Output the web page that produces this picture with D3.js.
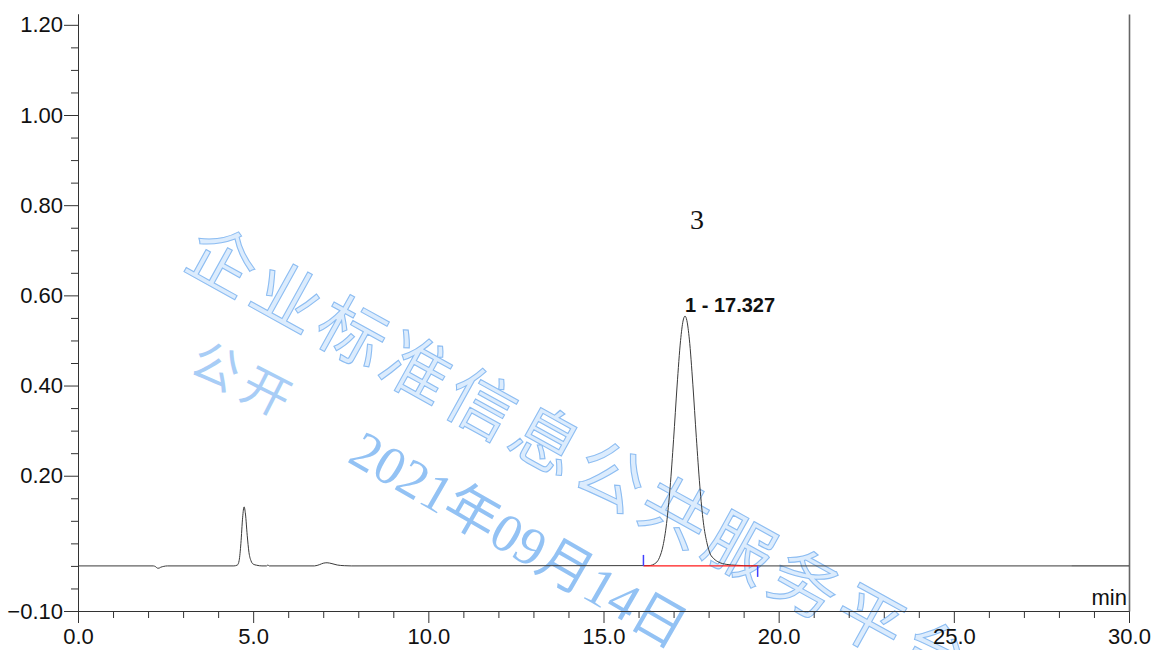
<!DOCTYPE html>
<html><head><meta charset="utf-8">
<script src="https://cdn.jsdelivr.net/npm/d3@7"></script>
<style>body{margin:0;background:#fff}svg{display:block}</style>
</head><body><svg id="c" width="1156" height="650"></svg>
<script>
// ---- data ----
const signalTime  = [0, 2.15, 2.22, 2.27, 2.31, 2.36, 2.45, 2.55,
  4.45, 4.55, 4.60, 4.65, 4.70, 4.74, 4.78, 4.83, 4.88, 4.94, 5.00, 5.10, 5.25, 5.38, 5.42, 5.46,
  6.75, 6.90, 7.00, 7.11, 7.25, 7.40, 7.60, 7.80,
  16.3, 16.5, 16.6, 16.7, 16.8, 16.9, 17.0, 17.1, 17.2, 17.27, 17.327, 17.38, 17.45, 17.55, 17.65,
  17.75, 17.85, 17.95, 18.05, 18.15, 18.3, 18.5, 18.8, 19.2, 19.5, 28.35];
const signalValue = [0, 0, -0.002, -0.005, -0.005, -0.003, -0.001, 0,
  0, 0.002, 0.012, 0.05, 0.108, 0.131, 0.115, 0.068, 0.030, 0.011, 0.004, 0.0015, 0, 0, 0.002, 0,
  0, 0.003, 0.006, 0.007, 0.005, 0.002, 0.0005, 0,
  0.0007, 0.007, 0.019, 0.045, 0.094, 0.173, 0.280, 0.399, 0.500, 0.543, 0.554, 0.544, 0.503, 0.403, 0.285,
  0.177, 0.097, 0.052, 0.026, 0.016, 0.008, 0.0035, 0.0013, 0.0004, 0, 0];
const zeroTailTime = [28.35, 30];
const peakName = "1 - 17.327";
const peakTime = 17.327;
const peakHeight = 0.554;
const integStart = 16.14;
const integEnd = 19.40;
const extraLabel = "3";
const extraLabelPos = [17.67, 0.747];
const yMajorTicks = [1.2, 1.0, 0.8, 0.6, 0.4, 0.2, -0.1];
const yMinorTicks = [1.15, 1.1, 1.05, 0.95, 0.9, 0.85, 0.75, 0.7, 0.65, 0.55, 0.5, 0.45, 0.35, 0.3, 0.25, 0.15, 0.1, 0.05, 0, -0.05];
const xMajorTicks = [0, 5, 10, 15, 20, 25, 30];
const xMinorTicks = [1,2,3,4,6,7,8,9,11,12,13,14,16,17,18,19,21,22,23,24,26,27,28,29];
const xUnit = "min";
const wmMain = "企业标准信息公共服务平台";
const wmSub = "公开";
const wmDate = "2021年09月14日";

// ---- layout ----
const svg = d3.select("#c");
const x = d3.scaleLinear().domain([0, 30]).range([78, 1129]);
const y = d3.scaleLinear().domain([-0.1, 1.224]).range([611, 14]);
const FONT = "'Liberation Sans', Arial, sans-serif";

// watermark (under the chart)
const wm = svg.append("g").attr("class", "watermark");
wm.append("text").text(wmMain)
  .attr("transform", "translate(181,266) rotate(29)")
  .attr("font-family", "'Noto Sans CJK SC', sans-serif").attr("font-size", 68)
  .attr("letter-spacing", 6)
  .attr("fill", "#dcecfd").attr("stroke", "#8dbdf2").attr("stroke-width", 1.1);
wm.append("text").text(wmSub)
  .attr("transform", "translate(187,371) rotate(27)")
  .attr("font-family", "'Noto Sans CJK SC', sans-serif").attr("font-size", 48)
  .attr("letter-spacing", 8)
  .attr("fill", "#a8cdf6");
wm.append("text").text(wmDate)
  .attr("transform", "translate(346,461) rotate(30)")
  .attr("font-family", "'Liberation Serif', 'Noto Sans CJK SC', serif").attr("font-size", 54)
  .attr("fill", "#93c2f4");

// axes
const yMajor = svg.append("g").attr("transform", `translate(${x(0)},0)`)
  .call(d3.axisLeft(y).tickValues(yMajorTicks).tickFormat(d3.format(".2f"))
    .tickSize(14).tickPadding(1).tickSizeOuter(0));
const yMinor = svg.append("g").attr("transform", `translate(${x(0)},0)`)
  .call(d3.axisLeft(y).tickValues(yMinorTicks).tickFormat("").tickSize(7).tickSizeOuter(0));
const xMajor = svg.append("g").attr("transform", `translate(0,${y(-0.1)})`)
  .call(d3.axisBottom(x).tickValues(xMajorTicks).tickFormat(d3.format(".1f"))
    .tickSize(12).tickPadding(5).tickSizeOuter(0));
const xMinor = svg.append("g").attr("transform", `translate(0,${y(-0.1)})`)
  .call(d3.axisBottom(x).tickValues(xMinorTicks).tickFormat("").tickSize(7).tickSizeOuter(0));
const yRight = svg.append("g").attr("transform", `translate(${x(30)},0)`)
  .call(d3.axisRight(y).tickValues([]).tickSizeOuter(0));
yRight.select(".domain").attr("stroke", "#666").attr("stroke-width", 1.6);

[yMajor, yMinor, xMajor, xMinor].forEach(g => {
  g.select(".domain").attr("stroke", "#333");
  g.selectAll(".tick line").attr("stroke", "#333");
  g.selectAll(".tick text").attr("font-family", FONT).attr("font-size", 22).attr("fill", "#111");
});

svg.append("text").text(xUnit)
  .attr("x", x(30) - 2).attr("y", y(-0.1) - 6)
  .attr("text-anchor", "end")
  .attr("font-family", FONT).attr("font-size", 22).attr("fill", "#111");

// signal
const pts = signalTime.map((t, i) => [t, signalValue[i]]);
const line = d3.line().x(d => x(d[0])).y(d => y(d[1])).curve(d3.curveMonotoneX);
svg.append("path").datum(pts).attr("d", line)
  .attr("fill", "none").attr("stroke", "#3a3a3a").attr("stroke-width", 1);
svg.append("path").datum(zeroTailTime.map(t => [t, 0])).attr("d", d3.line().x(d => x(d[0])).y(d => y(d[1])))
  .attr("fill", "none").attr("stroke", "#444").attr("stroke-width", 1.2);

// integration baseline and delimiters (drawn over the signal)
svg.append("path").datum([[integStart, 0], [integEnd, 0]])
  .attr("d", d3.line().x(d => x(d[0])).y(d => y(d[1])))
  .attr("stroke", "#ff1a1a").attr("stroke-width", 1.3).attr("fill", "none");
svg.append("line").attr("x1", x(integStart)).attr("x2", x(integStart))
  .attr("y1", y(0) - 11).attr("y2", y(0)).attr("stroke", "#4040ff").attr("stroke-width", 1.5);
svg.append("line").attr("x1", x(integEnd)).attr("x2", x(integEnd))
  .attr("y1", y(0)).attr("y2", y(0) + 11).attr("stroke", "#4040ff").attr("stroke-width", 1.5);

// labels
svg.append("text").text(peakName)
  .attr("x", x(peakTime)).attr("y", y(peakHeight) - 4)
  .attr("font-family", FONT).attr("font-size", 20).attr("font-weight", "bold").attr("fill", "#111");
svg.append("text").text(extraLabel)
  .attr("x", x(extraLabelPos[0])).attr("y", y(extraLabelPos[1]))
  .attr("text-anchor", "middle")
  .attr("font-family", "'Liberation Serif', 'Times New Roman', serif").attr("font-size", 28).attr("fill", "#111");
</script></body></html>
